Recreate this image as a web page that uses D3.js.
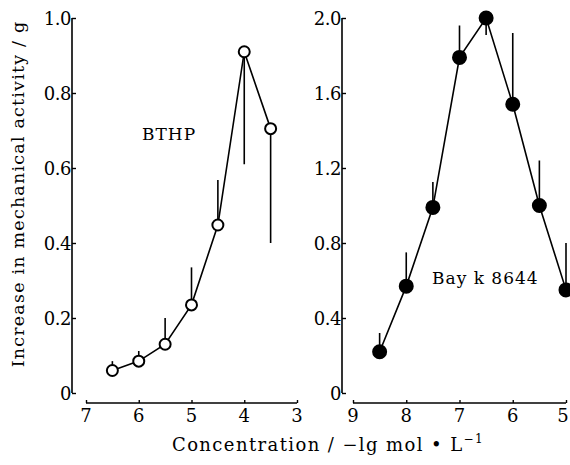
<!DOCTYPE html>
<html>
<head>
<meta charset="utf-8">
<script src="https://cdn.jsdelivr.net/npm/d3@7"></script>
<style>
  body { margin: 0; background: #fff; }
  text { font-family: "DejaVu Serif", "Liberation Serif", serif; fill: #000; }
</style>
</head>
<body>
<div id="chart"></div>
<script>
const width = 570;
const height = 465;

// BTHP (left panel), x = -lg mol/L
const bthpConc = [6.5, 6, 5.5, 5, 4.5, 4, 3.5];
const bthpMean = [0.06, 0.085, 0.13, 0.235, 0.448, 0.91, 0.705];
const bthpErrEnd = [0.085, 0.112, 0.2, 0.335, 0.568, 0.61, 0.40];
const bthpXTicks = [7, 6, 5, 4, 3];
const bthpYTicks = [0, 0.2, 0.4, 0.6, 0.8, 1.0];

// Bay k 8644 (right panel)
const bayConc = [8.5, 8, 7.5, 7, 6.5, 6, 5.5, 5];
const bayMean = [0.22, 0.57, 0.99, 1.79, 2.0, 1.54, 1.0, 0.55];
const bayErrEnd = [0.32, 0.75, 1.125, 1.96, 1.91, 1.92, 1.24, 0.8];
const bayXTicks = [9, 8, 7, 6, 5];
const bayYTicks = [0, 0.4, 0.8, 1.2, 1.6, 2.0];

const svg = d3.select('#chart').append('svg')
    .attr('width', width)
    .attr('height', height);

const yTop = 18;
const yBottom = 393;
const xAxisY = 403;

function drawPanel (opts) {
  const g = svg.append('g');
  const x = d3.scaleLinear().domain(opts.xDomain).range(opts.xRange);
  const y = d3.scaleLinear().domain([0, opts.yMax]).range([yBottom, yTop]);
  const fmt = v => v === 0 ? '0' : v.toFixed(1);

  // y axis, ticks pointing inward
  g.append('g')
      .attr('transform', `translate(${opts.yAxisX}, 0)`)
      .call(d3.axisRight(y).tickValues(opts.yTicks).tickSize(4).tickFormat(''))
      .call(a => a.select('.domain').attr('d', `M0,${yTop}V${yBottom}`).attr('stroke-width', 1.6))
      .call(a => a.selectAll('.tick line').attr('stroke-width', 1.4));

  g.selectAll('.ylab')
    .data(opts.yTicks)
    .enter().append('text')
      .attr('x', opts.yAxisX - 1)
      .attr('y', d => y(d) + 7)
      .attr('text-anchor', 'end')
      .attr('font-size', 18)
      .attr('letter-spacing', -0.5)
      .text(fmt);

  // x axis, separated below
  g.append('g')
      .attr('transform', `translate(0, ${xAxisY})`)
      .call(d3.axisTop(x).tickValues(opts.xTicks).tickSize(3).tickFormat(''))
      .call(a => a.select('.domain').attr('d', `M${opts.xRange[0]},0H${opts.xRange[1]}`).attr('stroke-width', 1.6))
      .call(a => a.selectAll('.tick line').attr('stroke-width', 1.4));

  g.selectAll('.xlab')
    .data(opts.xTicks)
    .enter().append('text')
      .attr('x', d => Math.min(x(d), width - 7))
      .attr('y', 422)
      .attr('text-anchor', 'middle')
      .attr('font-size', 18)
      .text(d => d);

  const pts = opts.conc.map((c, i) => ({c: c, m: opts.mean[i], e: opts.errEnd[i]}));

  // error bars (one-sided)
  g.selectAll('.err')
    .data(pts)
    .enter().append('line')
      .attr('x1', d => x(d.c))
      .attr('x2', d => x(d.c))
      .attr('y1', d => y(d.m))
      .attr('y2', d => y(d.e))
      .attr('stroke', '#000')
      .attr('stroke-width', 1.6);

  g.append('path')
      .datum(pts)
      .attr('fill', 'none')
      .attr('stroke', '#000')
      .attr('stroke-width', 1.6)
      .attr('d', d3.line().x(d => x(d.c)).y(d => y(d.m)));

  g.selectAll('.pt')
    .data(pts)
    .enter().append('circle')
      .attr('cx', d => x(d.c))
      .attr('cy', d => y(d.m))
      .attr('r', opts.filled ? 6.5 : 5.5)
      .attr('fill', opts.filled ? '#000' : '#fff')
      .attr('stroke', '#000')
      .attr('stroke-width', 2);

  g.append('text')
      .attr('x', opts.label[0])
      .attr('y', opts.label[1])
      .attr('font-size', 17)
      .attr('letter-spacing', opts.labelSpacing)
      .text(opts.name);
}

drawPanel({
  xDomain: [7, 3], xRange: [86, 297], yAxisX: 72, yMax: 1.0,
  xTicks: bthpXTicks, yTicks: bthpYTicks,
  conc: bthpConc, mean: bthpMean, errEnd: bthpErrEnd,
  filled: false, name: 'BTHP', label: [142, 140], labelSpacing: 1
});

drawPanel({
  xDomain: [9, 5], xRange: [353, 566], yAxisX: 342, yMax: 2.0,
  xTicks: bayXTicks, yTicks: bayYTicks,
  conc: bayConc, mean: bayMean, errEnd: bayErrEnd,
  filled: true, name: 'Bay k 8644', label: [432, 284], labelSpacing: 1
});

svg.append('text')
    .attr('transform', 'translate(24, 194) rotate(-90)')
    .attr('text-anchor', 'middle')
    .attr('font-size', 17.5)
    .attr('letter-spacing', 1.2)
    .text('Increase in mechanical activity / g');

svg.append('text')
    .attr('x', 328)
    .attr('y', 451)
    .attr('text-anchor', 'middle')
    .attr('font-size', 18)
    .attr('letter-spacing', 1.4)
    .text('Concentration / \u2212lg mol \u2022 L')
  .append('tspan')
    .attr('dy', -8)
    .attr('font-size', 12)
    .text('\u22121');
</script>
</body>
</html>
